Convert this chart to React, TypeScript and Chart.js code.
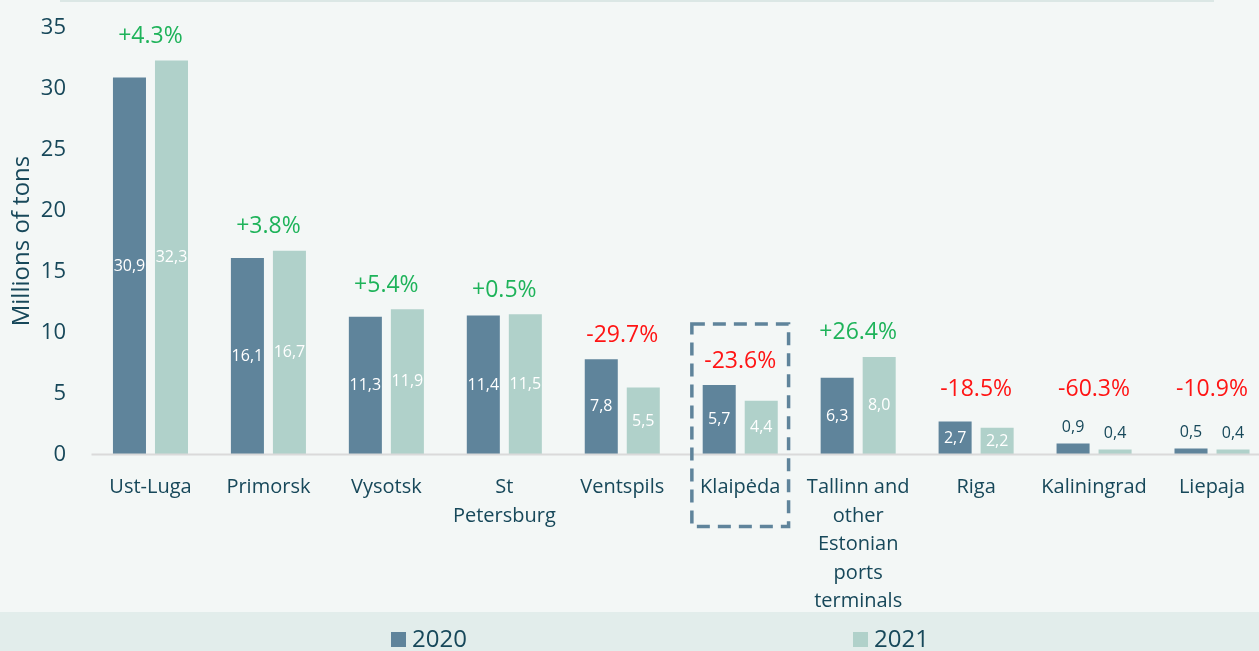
import React, { useEffect, useRef } from "react";
import { Chart, registerables } from "chart.js";

Chart.register(...registerables);

const categories: string[][] = [
  ["Ust-Luga"],
  ["Primorsk"],
  ["Vysotsk"],
  ["St", "Petersburg"],
  ["Ventspils"],
  ["Klaipėda"],
  ["Tallinn and", "other", "Estonian", "ports", "terminals"],
  ["Riga"],
  ["Kaliningrad"],
  ["Liepaja"],
];
const values2020 = [30.9, 16.1, 11.3, 11.4, 7.8, 5.7, 6.3, 2.7, 0.9, 0.5];
const values2021 = [32.3, 16.7, 11.9, 11.5, 5.5, 4.4, 8.0, 2.2, 0.4, 0.4];
const changeLabels = ["+4.3%", "+3.8%", "+5.4%", "+0.5%", "-29.7%", "-23.6%", "+26.4%", "-18.5%", "-60.3%", "-10.9%"];
const seriesNames = ["2020", "2021"];
const highlightedIndex = 5;
const yMax = 35;
const yStep = 5;

const FONT = "'Open Sans', 'Noto Sans', sans-serif";
const TEXT = "#17485a";
const C2020 = "#5f849b";
const C2021 = "#b0d1ca";
const BG = "#f3f7f6";
const BAND = "#e2edeb";
const GREEN = "#1eb35a";
const RED = "#ff1414";

const decor = {
  id: "decor",
  beforeDraw(chart: any) {
    const { ctx, width, height } = chart;
    ctx.save();
    ctx.fillStyle = BG;
    ctx.fillRect(0, 0, width, height);
    ctx.fillStyle = BAND;
    ctx.fillRect(0, 612, width, height - 612);
    ctx.fillStyle = "#dbe7e5";
    ctx.fillRect(60, 0, 1154, 2);
    ctx.restore();
  },
  afterDatasetsDraw(chart: any) {
    const { ctx } = chart;
    const xs = chart.scales.x;
    const ys = chart.scales.y;
    const zero = ys.getPixelForValue(0);
    ctx.save();
    // axis line
    ctx.strokeStyle = "#dadada";
    ctx.lineWidth = 2;
    ctx.beginPath();
    ctx.moveTo(chart.chartArea.left, zero);
    ctx.lineTo(chart.width, zero);
    ctx.stroke();

    // value labels
    ctx.textAlign = "center";
    ctx.textBaseline = "middle";
    ctx.font = `16px ${FONT}`;
    chart.data.datasets.forEach((ds: any, di: number) => {
      const meta = chart.getDatasetMeta(di);
      meta.data.forEach((el: any, i: number) => {
        const v = ds.data[i] as number;
        const txt = v.toFixed(1).replace(".", ",");
        if (v >= 1.5) {
          ctx.fillStyle = "#ffffff";
          ctx.fillText(txt, el.x, (el.y + el.base) / 2);
        } else {
          ctx.fillStyle = TEXT;
          ctx.fillText(txt, el.x, el.y - 16);
        }
      });
    });

    // change labels
    const m0 = chart.getDatasetMeta(0);
    const m1 = chart.getDatasetMeta(1);
    ctx.font = `23px ${FONT}`;
    const pctY: number[] = [];
    changeLabels.forEach((lab, i) => {
      const top = Math.min(m0.data[i].y, m1.data[i].y);
      const y = Math.min(top - 24, zero - 65);
      pctY.push(y);
      ctx.fillStyle = lab.startsWith("-") ? RED : GREEN;
      ctx.fillText(lab, xs.getPixelForValue(i), y);
    });

    // highlight box
    const cw = (chart.chartArea.right - chart.chartArea.left) / categories.length;
    const cx = xs.getPixelForValue(highlightedIndex);
    const hw = cw * 0.41;
    const top = pctY[highlightedIndex] - 37;
    const bottom = zero + 72;
    ctx.strokeStyle = C2020;
    ctx.lineWidth = 3.5;
    ctx.setLineDash([13, 8]);
    ctx.strokeRect(cx - hw, top, hw * 2, bottom - top);
    ctx.setLineDash([]);

    // legend
    const legendX = [391, 853];
    const colors = [C2020, C2021];
    ctx.font = `24px ${FONT}`;
    ctx.textAlign = "left";
    ctx.textBaseline = "alphabetic";
    seriesNames.forEach((name, i) => {
      ctx.fillStyle = colors[i];
      ctx.fillRect(legendX[i], 632, 15, 15);
      ctx.fillStyle = TEXT;
      ctx.fillText(name, legendX[i] + 21, 647);
    });
    ctx.restore();
  },
};

export default function App() {
  const ref = useRef<HTMLCanvasElement | null>(null);
  useEffect(() => {
    document.body.style.margin = "0";
    document.body.style.overflow = "hidden";
    const canvas = ref.current!;
    const chart = new Chart(canvas, {
      type: "bar",
      data: {
        labels: categories,
        datasets: [
          {
            label: seriesNames[0],
            data: values2020,
            backgroundColor: C2020,
            categoryPercentage: 0.7125,
            barPercentage: 0.786,
          },
          {
            label: seriesNames[1],
            data: values2021,
            backgroundColor: C2021,
            categoryPercentage: 0.7125,
            barPercentage: 0.786,
          },
        ],
      },
      options: {
        responsive: false,
        animation: false,
        devicePixelRatio: 1,
        layout: { padding: { top: 27.5, left: 0, right: 0, bottom: 0 } },
        plugins: {
          legend: { display: false },
          tooltip: { enabled: false },
        },
        scales: {
          x: {
            grid: { display: false, drawTicks: false },
            border: { display: false },
            ticks: {
              color: TEXT,
              font: { family: FONT, size: 20, lineHeight: 1.425 },
              padding: 19,
              maxRotation: 0,
              autoSkip: false,
            },
            afterFit: (s: any) => {
              s.height = 196.5;
              s.paddingLeft = 0;
              s.paddingRight = 0;
            },
          },
          y: {
            min: 0,
            max: yMax,
            grid: { display: false, drawTicks: false },
            border: { display: false },
            ticks: {
              stepSize: yStep,
              color: TEXT,
              font: { family: FONT, size: 22 },
              padding: 25.5,
            },
            title: {
              display: true,
              text: "Millions of tons",
              color: TEXT,
              font: { family: FONT, size: 24, lineHeight: 1.2 },
              padding: { top: 8, bottom: 0 },
            },
            afterFit: (s: any) => {
              s.width = 91.5;
              s.paddingTop = 0;
              s.paddingBottom = 0;
            },
          },
        },
      },
      plugins: [decor],
    });
    return () => chart.destroy();
  }, []);
  return (
    <div style={{ width: 1259, height: 651, overflow: "hidden", position: "relative" }}>
      <canvas ref={ref} width={1271} height={651} style={{ display: "block", width: 1271, height: 651 }} />
    </div>
  );
}
